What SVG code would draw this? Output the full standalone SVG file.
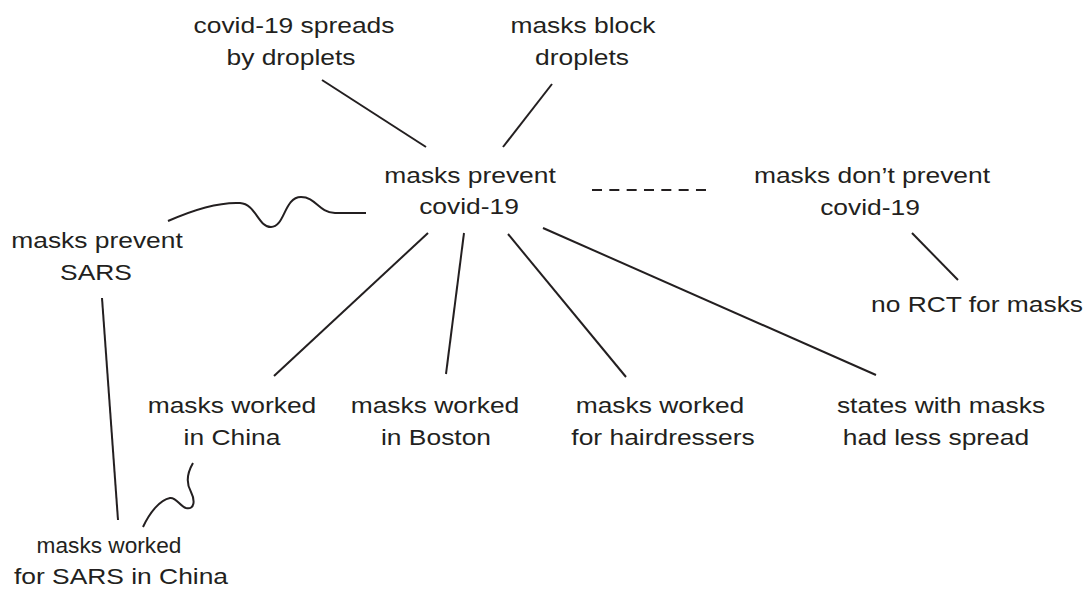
<svg xmlns="http://www.w3.org/2000/svg" width="1088" height="598" viewBox="0 0 1088 598">
  <style>
    .lbl { font-family: "Liberation Sans", Arial, Helvetica, sans-serif; font-size: 22px; fill: #231f20; text-anchor: middle; }
    .edge { fill: none; stroke: #231f20; stroke-width: 2; stroke-linecap: butt; }
    .dash { stroke-dasharray: 10 7.33; }
  </style>
  <rect width="1088" height="598" fill="#ffffff"/>

  <!-- connectors -->
  <g id="connectors">
    <line class="edge" x1="322" y1="80" x2="426" y2="147"/>
    <line class="edge" x1="552" y1="84" x2="503" y2="147"/>
    <line class="edge dash" x1="592" y1="190" x2="707" y2="190"/>
    <path class="edge" d="M168,221 C195,209 220,202 240,203 C256,204 258,227 271,227 C285,227 284,197 301,197 C316,197 318,212 335,213 L366,213"/>
    <line class="edge" x1="428" y1="233" x2="274" y2="376"/>
    <line class="edge" x1="464" y1="233" x2="446" y2="374"/>
    <line class="edge" x1="508" y1="234" x2="626" y2="377"/>
    <line class="edge" x1="543" y1="228" x2="876" y2="375"/>
    <line class="edge" x1="912" y1="233" x2="958" y2="280"/>
    <line class="edge" x1="102" y1="298" x2="118" y2="520"/>
    <path class="edge" d="M193,463 C186,475 187,485 191,492 C195,500 195,510 186,508 C180,506 176,497 170,498 C160,500 150,512 143,527"/>
  </g>

  <!-- nodes -->
  <g id="spreads-by-droplets">
    <text class="lbl" transform="translate(294,33) scale(1.2,1)">covid-19 spreads</text>
    <text class="lbl" transform="translate(291,65) scale(1.2,1)">by droplets</text>
  </g>
  <g id="masks-block-droplets">
    <text class="lbl" transform="translate(583,33) scale(1.2,1)">masks block</text>
    <text class="lbl" transform="translate(582,65) scale(1.2,1)">droplets</text>
  </g>
  <g id="masks-prevent-covid">
    <text class="lbl" transform="translate(470,183) scale(1.2,1)">masks prevent</text>
    <text class="lbl" transform="translate(469,214) scale(1.2,1)">covid-19</text>
  </g>
  <g id="masks-dont-prevent-covid">
    <text class="lbl" transform="translate(872,183) scale(1.2,1)">masks don’t prevent</text>
    <text class="lbl" transform="translate(870,215) scale(1.2,1)">covid-19</text>
  </g>
  <g id="no-rct">
    <text class="lbl" transform="translate(977,312) scale(1.2,1)">no RCT for masks</text>
  </g>
  <g id="masks-prevent-sars">
    <text class="lbl" transform="translate(97,248) scale(1.2,1)">masks prevent</text>
    <text class="lbl" transform="translate(96,280) scale(1.2,1)">SARS</text>
  </g>
  <g id="worked-china">
    <text class="lbl" transform="translate(232,413) scale(1.2,1)">masks worked</text>
    <text class="lbl" transform="translate(232,445) scale(1.2,1)">in China</text>
  </g>
  <g id="worked-boston">
    <text class="lbl" transform="translate(435,413) scale(1.2,1)">masks worked</text>
    <text class="lbl" transform="translate(436,445) scale(1.2,1)">in Boston</text>
  </g>
  <g id="worked-hairdressers">
    <text class="lbl" transform="translate(660,413) scale(1.2,1)">masks worked</text>
    <text class="lbl" transform="translate(663,445) scale(1.2,1)">for hairdressers</text>
  </g>
  <g id="states-less-spread">
    <text class="lbl" transform="translate(941,413) scale(1.2,1)">states with masks</text>
    <text class="lbl" transform="translate(936,445) scale(1.2,1)">had less spread</text>
  </g>
  <g id="worked-sars-china">
    <text class="lbl" transform="translate(109,553) scale(1.03,1)">masks worked</text>
    <text class="lbl" transform="translate(121,584) scale(1.2,1)">for SARS in China</text>
  </g>
</svg>
